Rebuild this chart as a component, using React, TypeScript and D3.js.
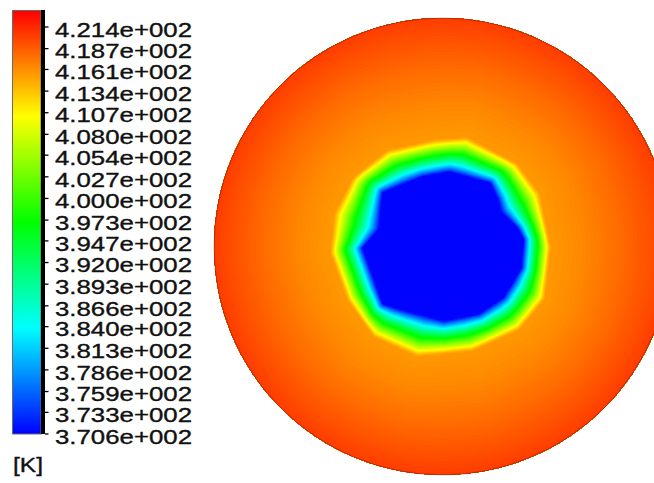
import React, { useMemo } from "react";
import * as d3 from "d3";

// ---- Data -------------------------------------------------------------
const legendLabels = [
  "4.214e+002", "4.187e+002", "4.161e+002", "4.134e+002", "4.107e+002",
  "4.080e+002", "4.054e+002", "4.027e+002", "4.000e+002", "3.973e+002",
  "3.947e+002", "3.920e+002", "3.893e+002", "3.866e+002", "3.840e+002",
  "3.813e+002", "3.786e+002", "3.759e+002", "3.733e+002", "3.706e+002",
];
const unitLabel = "[K]";
const rainbowStops = [0, 0.25, 0.5, 0.75, 1];
const rainbowColors = ["#0000ff", "#00ffff", "#00ff00", "#ffff00", "#ff0000"];

// cold core boundary (polar: angle in degrees, radius as fraction of disk radius)
const coreAnglesDeg = [-179, -136, -118, -89, -62, -40, -15, 5, 14, 30, 39, 53, 85, 106, 138, 145, 165];
const coreRadiusFrac = [0.352, 0.366, 0.325, 0.328, 0.338, 0.35, 0.36, 0.359, 0.34, 0.3, 0.318, 0.35, 0.33, 0.32, 0.355, 0.33, 0.29];
// outer edge of the transition band
const bandAnglesDeg = [-176.7, -150.7, -127.5, -103, -74, -47.1, -27.1, -0.3, 28.8, 48.3, 77.4, 95, 119.9, 142.2, 163];
const bandRadiusFrac = [0.493, 0.479, 0.499, 0.496, 0.478, 0.498, 0.505, 0.475, 0.487, 0.49, 0.491, 0.469, 0.487, 0.496, 0.497];
// temperatures (K)
const coreTemp = 370.8;
const bandEdgeTemp = 415.6;
const rimTemp = 420.3;

// ---- Layout ------------------------------------------------------------
const W = 654;
const H = 483;
const barX = 12.5;
const barW = 28.5;
const barTop = 10.5;
const barBottom = 434;
const tickTopY = 27;
const labelX = 55;
const labelW = 137;
const fontSize = 19.5;
const cx = 442.5;
const cy = 246.5;
const R = 228.5;
const step = 2;

const tMax = +legendLabels[0];
const tMin = +legendLabels[legendLabels.length - 1];
const valueY = d3.scaleLinear().domain([tMin, tMax]).range([barBottom, tickTopY]);
const rainbow = d3
  .scaleLinear<string>()
  .domain(rainbowStops)
  .range(rainbowColors)
  .interpolate(d3.interpolateRgb)
  .clamp(true);
const colorOf = (t: number) => rainbow((barBottom - valueY(t)) / (barBottom - barTop));

type Pt = [number, number];
function polygon(angles: number[], radii: number[]): { a: number[]; p: Pt[] } {
  const p = angles.map((a, i) => {
    const rad = (a * Math.PI) / 180;
    return [radii[i] * R * Math.cos(rad), radii[i] * R * Math.sin(rad)] as Pt;
  });
  return { a: angles, p };
}
function rayDist(poly: { a: number[]; p: Pt[] }, thetaDeg: number): number {
  const n = poly.a.length;
  for (let i = 0; i < n; i++) {
    const a0 = poly.a[i];
    let a1 = poly.a[(i + 1) % n];
    if (a1 <= a0) a1 += 360;
    let t = thetaDeg;
    while (t < a0) t += 360;
    if (t - a0 < a1 - a0) {
      const A = poly.p[i];
      const B = poly.p[(i + 1) % n];
      const rad = (thetaDeg * Math.PI) / 180;
      const dx = Math.cos(rad);
      const dy = Math.sin(rad);
      const ex = B[0] - A[0];
      const ey = B[1] - A[1];
      return (A[0] * ey - A[1] * ex) / (dx * ey - dy * ex);
    }
  }
  return 0;
}

export default function App() {
  const { paths, baseColor } = useMemo(() => {
    const core = polygon(coreAnglesDeg, coreRadiusFrac);
    const band = polygon(bandAnglesDeg, bandRadiusFrac);
    const n = Math.ceil((2 * R) / step) + 2;
    const x0 = cx - R;
    const y0 = cy - R;
    const values = new Array(n * n);
    for (let j = 0; j < n; j++) {
      for (let i = 0; i < n; i++) {
        const px = x0 + i * step;
        const py = y0 + j * step;
        const dx = px - cx;
        const dy = cy - py;
        const r = Math.hypot(dx, dy);
        const th = (Math.atan2(dy, dx) * 180) / Math.PI;
        const rin = rayDist(core, th);
        const rout = rayDist(band, th);
        let T: number;
        if (r <= rin) T = coreTemp;
        else if (r < rout)
          T = coreTemp + (bandEdgeTemp - coreTemp) * Math.pow((r - rin) / (rout - rin), 0.85);
        else {
          const u = Math.min(1, (r - rout) / (R - rout));
          T = bandEdgeTemp + (rimTemp - bandEdgeTemp) * Math.pow(u, 1.3);
        }
        values[j * n + i] = T;
      }
    }
    const dt = 0.15;
    const thresholds = d3.range(coreTemp + 0.05, rimTemp + 0.2, dt);
    const contours = d3.contours().size([n, n]).thresholds(thresholds)(values);
    const proj = d3.geoIdentity().scale(step).translate([x0 - step / 2, y0 - step / 2]);
    const gp = d3.geoPath(proj as any);
    const paths = contours
      .filter((c) => c.coordinates.length > 0)
      .map((c) => ({ d: gp(c as any) || "", fill: colorOf(c.value + dt / 2) }));
    return { paths, baseColor: colorOf(coreTemp) };
  }, []);

  const textStyle = {
    fontFamily: "'Liberation Sans', Arial, sans-serif",
    fontSize,
    fill: "#111",
    stroke: "#111",
    strokeWidth: 0.35,
  } as const;

  return (
    <svg
      width={W}
      height={H}
      style={{ position: "absolute", left: 0, top: 0, display: "block", background: "#fff" }}
    >
      <defs>
        <linearGradient id="cbar" x1="0" y1="1" x2="0" y2="0">
          {rainbowStops.map((s, i) => (
            <stop key={i} offset={s} stopColor={rainbowColors[i]} />
          ))}
        </linearGradient>
        <clipPath id="disk">
          <circle cx={cx} cy={cy} r={R} />
        </clipPath>
      </defs>
      <rect x={0} y={0} width={W} height={H} fill="#fff" />

      {/* contour field */}
      <g clipPath="url(#disk)">
        <circle cx={cx} cy={cy} r={R} fill={baseColor} />
        {paths.map((p, i) => (
          <path key={i} d={p.d} fill={p.fill} stroke={p.fill} strokeWidth={0.3} />
        ))}
      </g>
      <circle cx={cx} cy={cy} r={R} fill="none" stroke="#000" strokeOpacity={0.35} strokeWidth={0.8} />

      {/* colour bar */}
      <rect x={barX} y={barTop} width={barW} height={barBottom - barTop} fill="url(#cbar)" stroke="#6b6b6b" strokeWidth={1} />
      <rect x={barX + barW} y={barTop - 0.5} width={4} height={barBottom - barTop + 0.5} fill="#000" />
      {legendLabels.map((lab) => {
        const y = valueY(+lab);
        return (
          <g key={lab}>
            <line x1={barX + barW + 4} x2={barX + barW + 7.5} y1={y} y2={y} stroke="#000" strokeWidth={1.3} />
            <text x={labelX} y={y + 9.7} {...textStyle} textLength={labelW} lengthAdjust="spacingAndGlyphs">
              {lab}
            </text>
          </g>
        );
      })}
      <text x={13} y={472} {...textStyle} textLength={30} lengthAdjust="spacingAndGlyphs">
        {unitLabel}
      </text>
    </svg>
  );
}
